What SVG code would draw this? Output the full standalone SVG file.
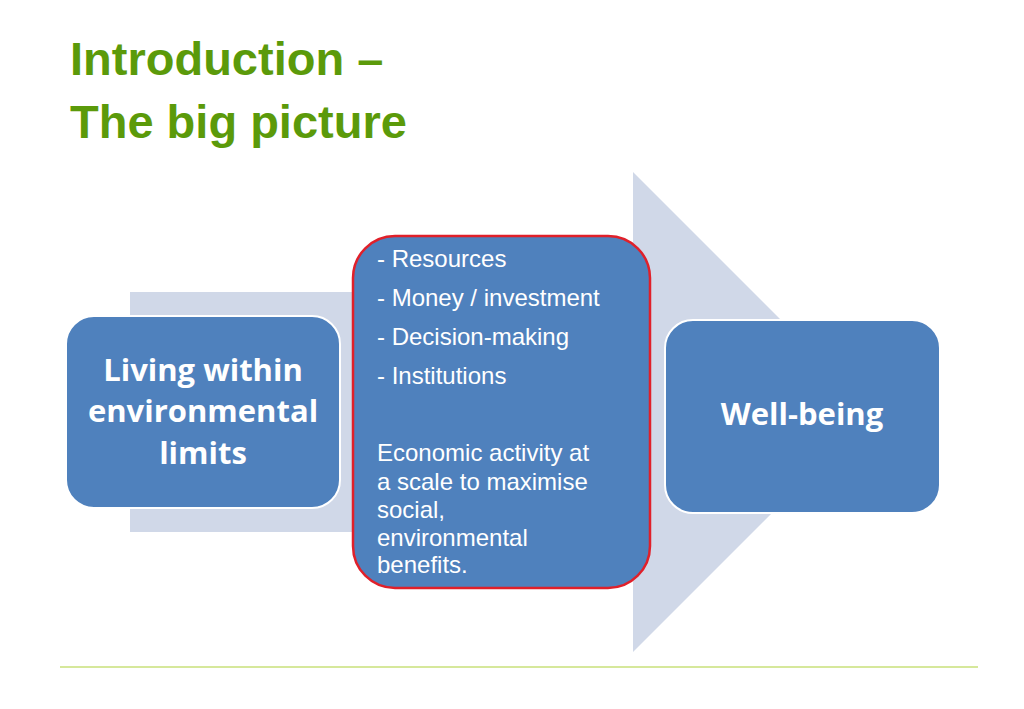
<svg xmlns="http://www.w3.org/2000/svg" width="1024" height="709" viewBox="0 0 1024 709">
<style>
.title{font-family:"Liberation Sans",Arial,sans-serif;font-weight:bold;font-size:47px;fill:#5b9a0a}
.box{fill:#4f81bd;stroke:#ffffff;stroke-width:2}
.bt{font-family:"Open Sans","Liberation Sans",sans-serif;font-weight:bold;font-size:31px;fill:#fff;text-anchor:middle}
.mt{font-family:"Liberation Sans",Arial,sans-serif;font-size:24px;fill:#fff}
</style>
<rect width="1024" height="709" fill="#fff"/>
<text class="title" x="70" y="75">Introduction –</text>
<text class="title" x="70" y="138">The big picture</text>
<g id="connectors">
<polygon points="130,292 633,292 633,172 873,412 633,652 633,532 130,532" fill="#d0d8e8"/>
</g>
<g id="left">
<rect class="box" x="66" y="316" width="274" height="192" rx="28"/>
<text class="bt" x="203" y="381">Living within</text>
<text class="bt" x="203" y="422">environmental</text>
<text class="bt" x="203" y="464">limits</text>
</g>
<g id="middle">
<rect x="353" y="236" width="297" height="352" rx="42" fill="#4f81bd" stroke="#e0202a" stroke-width="2.5"/>
<text class="mt" x="377" y="267">- Resources</text>
<text class="mt" x="377" y="306">- Money / investment</text>
<text class="mt" x="377" y="345">- Decision-making</text>
<text class="mt" x="377" y="384">- Institutions</text>
<text class="mt" x="377" y="461">Economic activity at</text>
<text class="mt" x="377" y="490">a scale to maximise</text>
<text class="mt" x="377" y="518">social,</text>
<text class="mt" x="377" y="546">environmental</text>
<text class="mt" x="377" y="573">benefits.</text>
</g>
<g id="right">
<rect class="box" x="665" y="320" width="275" height="193" rx="28"/>
<text class="bt" x="802" y="425">Well-being</text>
</g>
<line x1="60" y1="667" x2="978" y2="667" stroke="#c8e07a" stroke-width="1.5"/>
</svg>
